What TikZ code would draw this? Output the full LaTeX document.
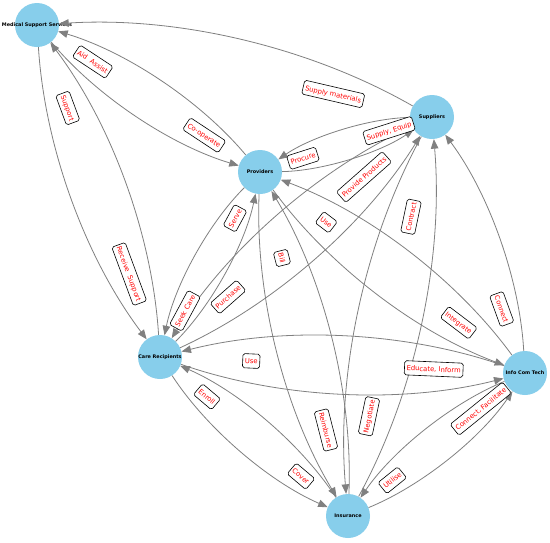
\documentclass[tikz,border=0pt]{standalone}
\usepackage{fontspec}
\newfontfamily\dvs{DejaVu Sans}
\usetikzlibrary{arrows.meta,calc}
\definecolor{skyblue}{RGB}{135,206,235}
\definecolor{edgegray}{RGB}{128,128,128}
\definecolor{lblred}{RGB}{255,0,0}
\tikzset{
  vert/.style={circle, fill=skyblue, minimum size=44pt, inner sep=0pt,
    font=\dvs\bfseries\fontsize{4.9}{5}\selectfont},
  edgeline/.style={draw=edgegray, line width=0.8pt,
    -{Triangle[length=9.5pt,width=7.5pt]}},
  lbl/.style={draw=black, fill=white, line width=0.6pt, rounded corners=1.8pt,
    text=lblred, inner xsep=2.2pt, inner ysep=2.4pt,
    text height=0.74em, text depth=0.2em,
    font=\dvs\fontsize{6.8}{7}\selectfont}
}
\def\edgelist{SUP/MSS/Supply materials, MSS/PRO/Aid\ \ Assist, PRO/MSS/Co-operate,
  MSS/CR/Support, CR/MSS/Receive\ \ Support, PRO/SUP/Procure, SUP/PRO/{Supply, Equip},
  SUP/CR/Provide Products, CR/SUP/Purchase, PRO/ICT/Use, ICT/PRO/Integrate,
  SUP/INS/Contract, INS/SUP/Negotiate, PRO/CR/Serve, CR/PRO/Seek Care,
  PRO/INS/Bill, INS/PRO/Reimburse, CR/ICT/Use, ICT/CR/{Educate, Inform},
  CR/INS/Enroll, INS/CR/Cover, ICT/SUP/Connect, ICT/INS/{Connect, Facilitate},
  INS/ICT/Utilise}
\begin{document}
\begin{tikzpicture}[x=1pt,y=-1pt]
\fill[white] (0,0) rectangle (550,542);
\useasboundingbox (0,0) rectangle (550,542);
% nodes
\node[vert] (MSS) at (37,25) {\makebox[0pt]{Medical Support Services}};
\node[vert] (SUP) at (432,117) {\makebox[0pt]{Suppliers}};
\node[vert] (PRO) at (260,172) {\makebox[0pt]{Providers}};
\node[vert] (CR)  at (160,357) {\makebox[0pt]{Care Recipients}};
\node[vert] (ICT) at (525,373) {\makebox[0pt]{Info Com Tech}};
\node[vert] (INS) at (348,516) {\makebox[0pt]{Insurance}};
% edges
\foreach \u/\v/\t in \edgelist {
  \coordinate (m) at ($(\u)!0.5!(\v)$);
  \coordinate (c) at ($(m)!0.3!-90:(\v)$);
  \draw[edgeline] (\u) .. controls ($(\u)!0.6667!(c)$) and ($(\v)!0.6667!(c)$) .. (\v);
}
% labels
\foreach \u/\v/\t in \edgelist {
  \path (\u.center) -- (\v.center) node[lbl, pos=0.25, sloped] {\t};
}
\end{tikzpicture}
\end{document}
